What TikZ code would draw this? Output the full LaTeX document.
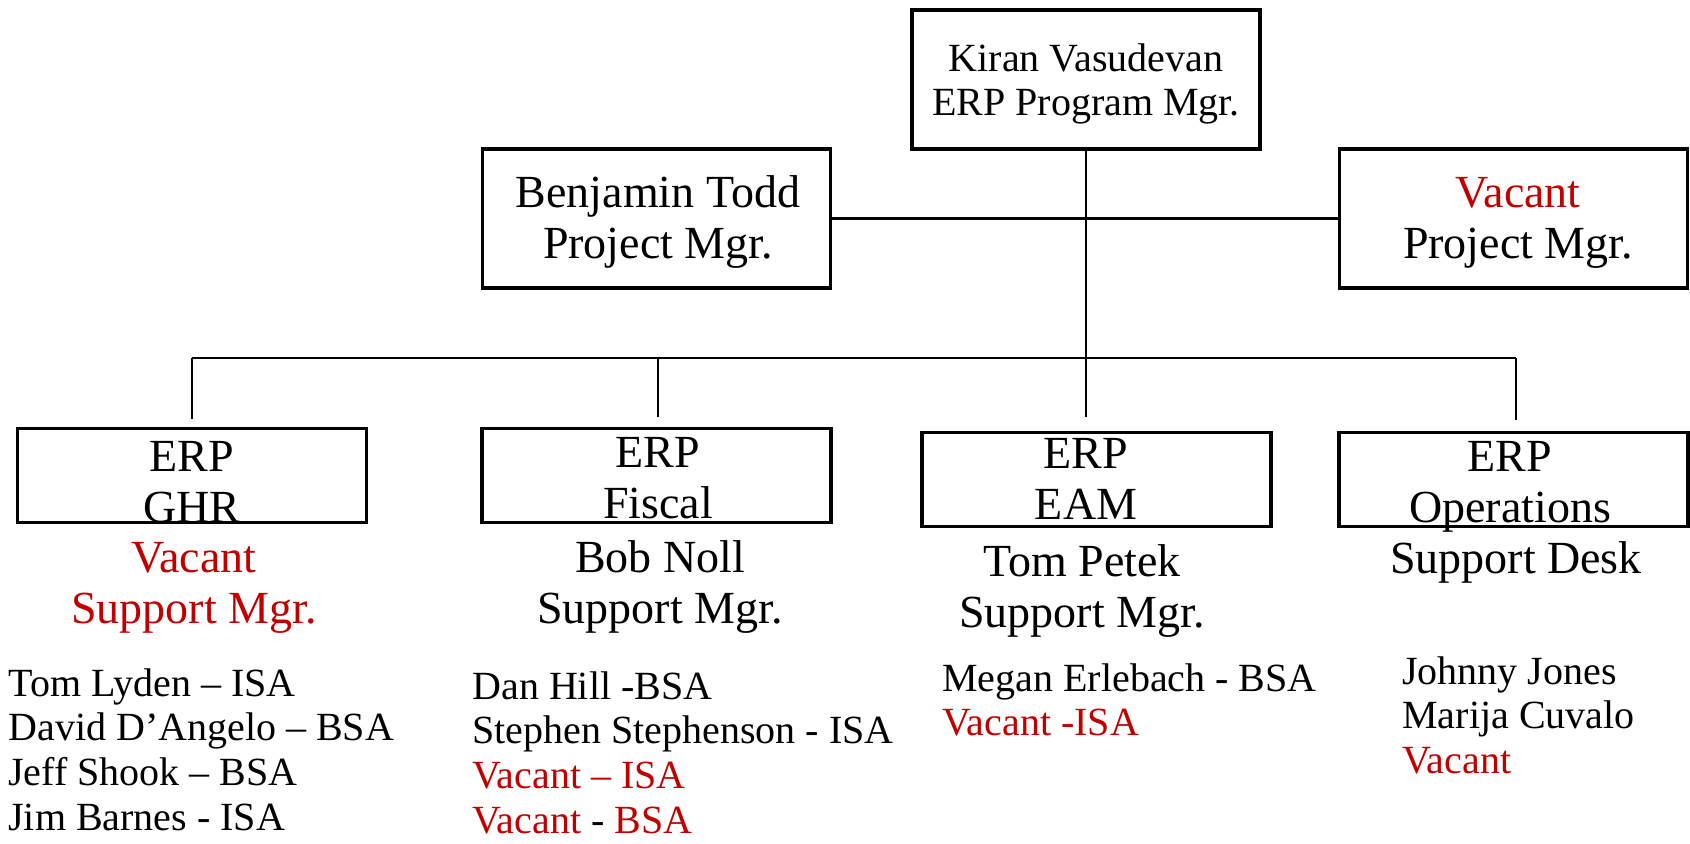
\documentclass[tikz,border=0pt]{standalone}
\usepackage{fontspec}
\setmainfont{Liberation Serif}
\usepackage{tikz}
\usetikzlibrary{positioning}
\definecolor{vacantred}{RGB}{192,0,0}

\begin{document}
\begin{tikzpicture}[x=0.5pt, y=-0.5pt,
  box/.style={rectangle, draw, line width=1.6pt, inner sep=0pt},
  topbox/.style={box, minimum width=174pt, minimum height=69.5pt},
  unitbox/.style={box, minimum width=174.5pt, minimum height=47pt},
  bigtext/.style={align=center, inner sep=0pt, font=\fontsize{23}{25.5}\selectfont},
  stafftext/.style={align=left, inner sep=0pt, anchor=north west, font=\fontsize{20}{22.4}\selectfont},
  link/.style={line width=1.1pt}]
\useasboundingbox (0,0) rectangle (1690,843);

% Boxes
\node[topbox] (kiran) at (1086,79.5) {};
\node[topbox] (todd) at (656.5,218.5) {};
\node[topbox] (vacpm) at (1513.5,218.5) {};
\node[unitbox] (ghr) at (192,475.5) {};
\node[unitbox] (fiscal) at (656.5,475.5) {};
\node[unitbox] (eam) at (1096.5,479.5) {};
\node[unitbox] (ops) at (1513.5,479.5) {};

% Box texts
\node[align=center, inner sep=0pt, font=\fontsize{20}{22}\selectfont] (kirant) at (1086,84) {Kiran Vasudevan\\ERP Program Mgr.};
\node[bigtext] (toddt) at (658,222) {Benjamin Todd\\Project Mgr.};
\node[bigtext] (vacpmt) at (1518,222.5) {\textcolor{vacantred}{Vacant}\\Project Mgr.};
\node[bigtext] (ghrt) at (192,482.5) {ERP\\GHR};
\node[bigtext] (fiscalt) at (658,478) {ERP\\Fiscal};
\node[bigtext] (eamt) at (1086,479) {ERP\\EAM};
\node[bigtext] (opst) at (1510,486.5) {ERP\\Operations};

% Support managers
\node[bigtext, text=vacantred] (ghrmgr) at (194,588) {Vacant\\Support Mgr.};
\node[bigtext] (fiscalmgr) at (660,586.5) {Bob Noll\\Support Mgr.};
\node[bigtext] (eammgr) at (1082,590.5) {Tom Petek\\Support Mgr.};
\node[bigtext] (opsdesk) at (1516,562.5) {Support Desk};

% Staff
\node[stafftext] (ghrstaff) at (8,668) {Tom Lyden – ISA\\David D’Angelo – BSA\\Jeff Shook – BSA\\Jim Barnes - ISA};
\node[stafftext] (fiscalstaff) at (472,671) {Dan Hill -BSA\\Stephen Stephenson - ISA\\\textcolor{vacantred}{Vacant – ISA}\\\textcolor{vacantred}{Vacant} - \textcolor{vacantred}{BSA}};
\node[stafftext] (eamstaff) at (942,663) {Megan Erlebach - BSA\\\textcolor{vacantred}{Vacant -ISA}};
\node[stafftext] (opsstaff) at (1402,656) {Johnny Jones\\Marija Cuvalo\\\textcolor{vacantred}{Vacant}};

% Lines
\coordinate (bus) at (1086,358);
\coordinate (ghrtop) at (192,419);
\coordinate (fiscaltop) at (658,417);
\coordinate (eamtop) at (1086,417);
\coordinate (opstop) at (1516,420);
\draw[link] (todd.east) -- (vacpm.west);
\draw[link] (kiran) -- (eamtop);
\draw[link] (ghrtop |- bus) -- (opstop |- bus);
\foreach \s in {ghrtop,fiscaltop,opstop}
  \draw[link] (\s |- bus) -- (\s);
\end{tikzpicture}
\end{document}
